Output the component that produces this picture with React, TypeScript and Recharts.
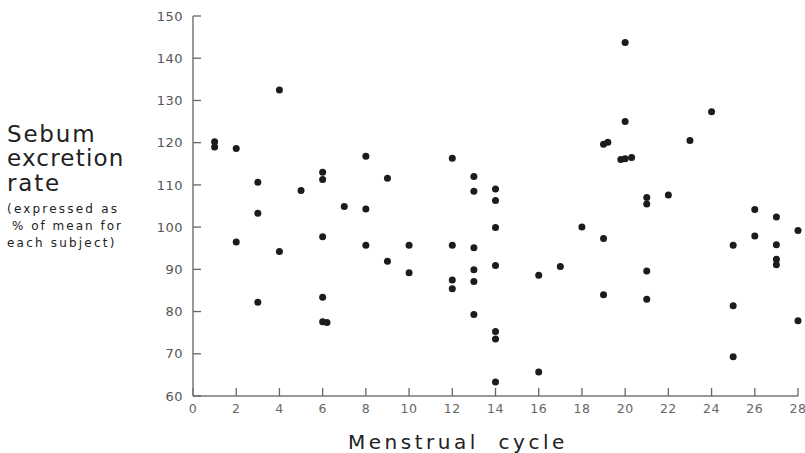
import { ScatterChart, Scatter, XAxis, YAxis } from "recharts";

// day of menstrual cycle for each measurement
const cycleDay = [
  1, 1, 2, 2, 3, 3, 3, 4, 4, 5,
  6, 6, 6, 6, 6, 6.2, 7, 8, 8, 8,
  9, 9, 10, 10, 12, 12, 12, 12,
  13, 13, 13, 13, 13, 13,
  14, 14, 14, 14, 14, 14, 14,
  16, 16, 17, 18,
  19, 19.2, 19, 19, 19.8, 20, 20.3, 20, 20,
  21, 21, 21, 21, 22, 23, 24,
  25, 25, 25, 26, 26, 27, 27, 27, 27, 28, 28,
];

// sebum excretion rate, % of subject mean
const sebumRate = [
  120.2, 119.0, 118.6, 96.5, 110.6, 103.3, 82.2, 132.5, 94.2, 108.7,
  113.0, 111.3, 97.7, 83.4, 77.6, 77.4, 104.9, 116.8, 104.3, 95.7,
  111.6, 91.9, 95.7, 89.2, 116.3, 95.7, 87.5, 85.4,
  112.0, 108.5, 95.1, 89.9, 87.1, 79.3,
  109.0, 106.3, 99.9, 90.9, 75.3, 73.5, 63.3,
  88.6, 65.7, 90.7, 100.0,
  119.6, 120.1, 97.3, 84.0, 116.0, 116.2, 116.5, 143.7, 125.0,
  107.0, 105.5, 89.6, 82.9, 107.6, 120.5, 127.3,
  95.7, 81.4, 69.3, 104.2, 97.9, 102.4, 95.8, 92.4, 91.1, 99.2, 77.8,
];

const xTicks = [0, 2, 4, 6, 8, 10, 12, 14, 16, 18, 20, 22, 24, 26, 28];
const yTicks = [60, 70, 80, 90, 100, 110, 120, 130, 140, 150];

const points = cycleDay.map((day, i) => ({ day, rate: sebumRate[i] }));

const font = "'DejaVu Sans', sans-serif";
const axisColor = "#777";

const Dot = (props: any) => <circle cx={props.cx} cy={props.cy} r={3.5} fill="#1c1c1c" />;

export default function App() {
  return (
    <div style={{ position: "absolute", left: 0, top: 0, width: 805, height: 453, background: "#fff", fontFamily: font }}>
      <ScatterChart width={805} height={453} margin={{ top: 16, right: 7, bottom: 0, left: 0 }}>
        <XAxis
          type="number"
          dataKey="day"
          domain={[0, 28]}
          ticks={xTicks}
          height={57}
          axisLine={{ stroke: axisColor, strokeWidth: 1.5 }}
          tickLine={{ stroke: "#666", strokeWidth: 1.3 }}
          tickSize={-8}
          tickMargin={16}
          tick={{ fontSize: 12.5, fill: "#666", fontFamily: font, letterSpacing: 0.5 }}
        />
        <YAxis
          type="number"
          dataKey="rate"
          domain={[60, 150]}
          ticks={yTicks}
          width={193}
          axisLine={{ stroke: axisColor, strokeWidth: 1.5 }}
          tickLine={{ stroke: "#666", strokeWidth: 1.3 }}
          tickSize={-8}
          tickMargin={18}
          tick={{ fontSize: 13, fill: "#555", fontFamily: font, letterSpacing: 0.5 }}
        />
        <Scatter data={points} shape={Dot} isAnimationActive={false} />
      </ScatterChart>
      <svg width={805} height={453} style={{ position: "absolute", left: 0, top: 0, pointerEvents: "none" }}>
        <g fontFamily={font} fill="#222">
          <text x={7} y={142} fontSize={23} letterSpacing={1.8}>Sebum</text>
          <text x={7} y={166} fontSize={23} letterSpacing={1.2}>excretion</text>
          <text x={7} y={191} fontSize={23} letterSpacing={1.8}>rate</text>
          <text x={7} y={213} fontSize={12} letterSpacing={2.2}>(expressed as</text>
          <text x={12} y={230} fontSize={12} letterSpacing={2}>% of mean for</text>
          <text x={7} y={247} fontSize={12} letterSpacing={2.2}>each subject)</text>
          <text x={348} y={449} fontSize={20} letterSpacing={3.5} wordSpacing={10}>Menstrual cycle</text>
        </g>
      </svg>
    </div>
  );
}
